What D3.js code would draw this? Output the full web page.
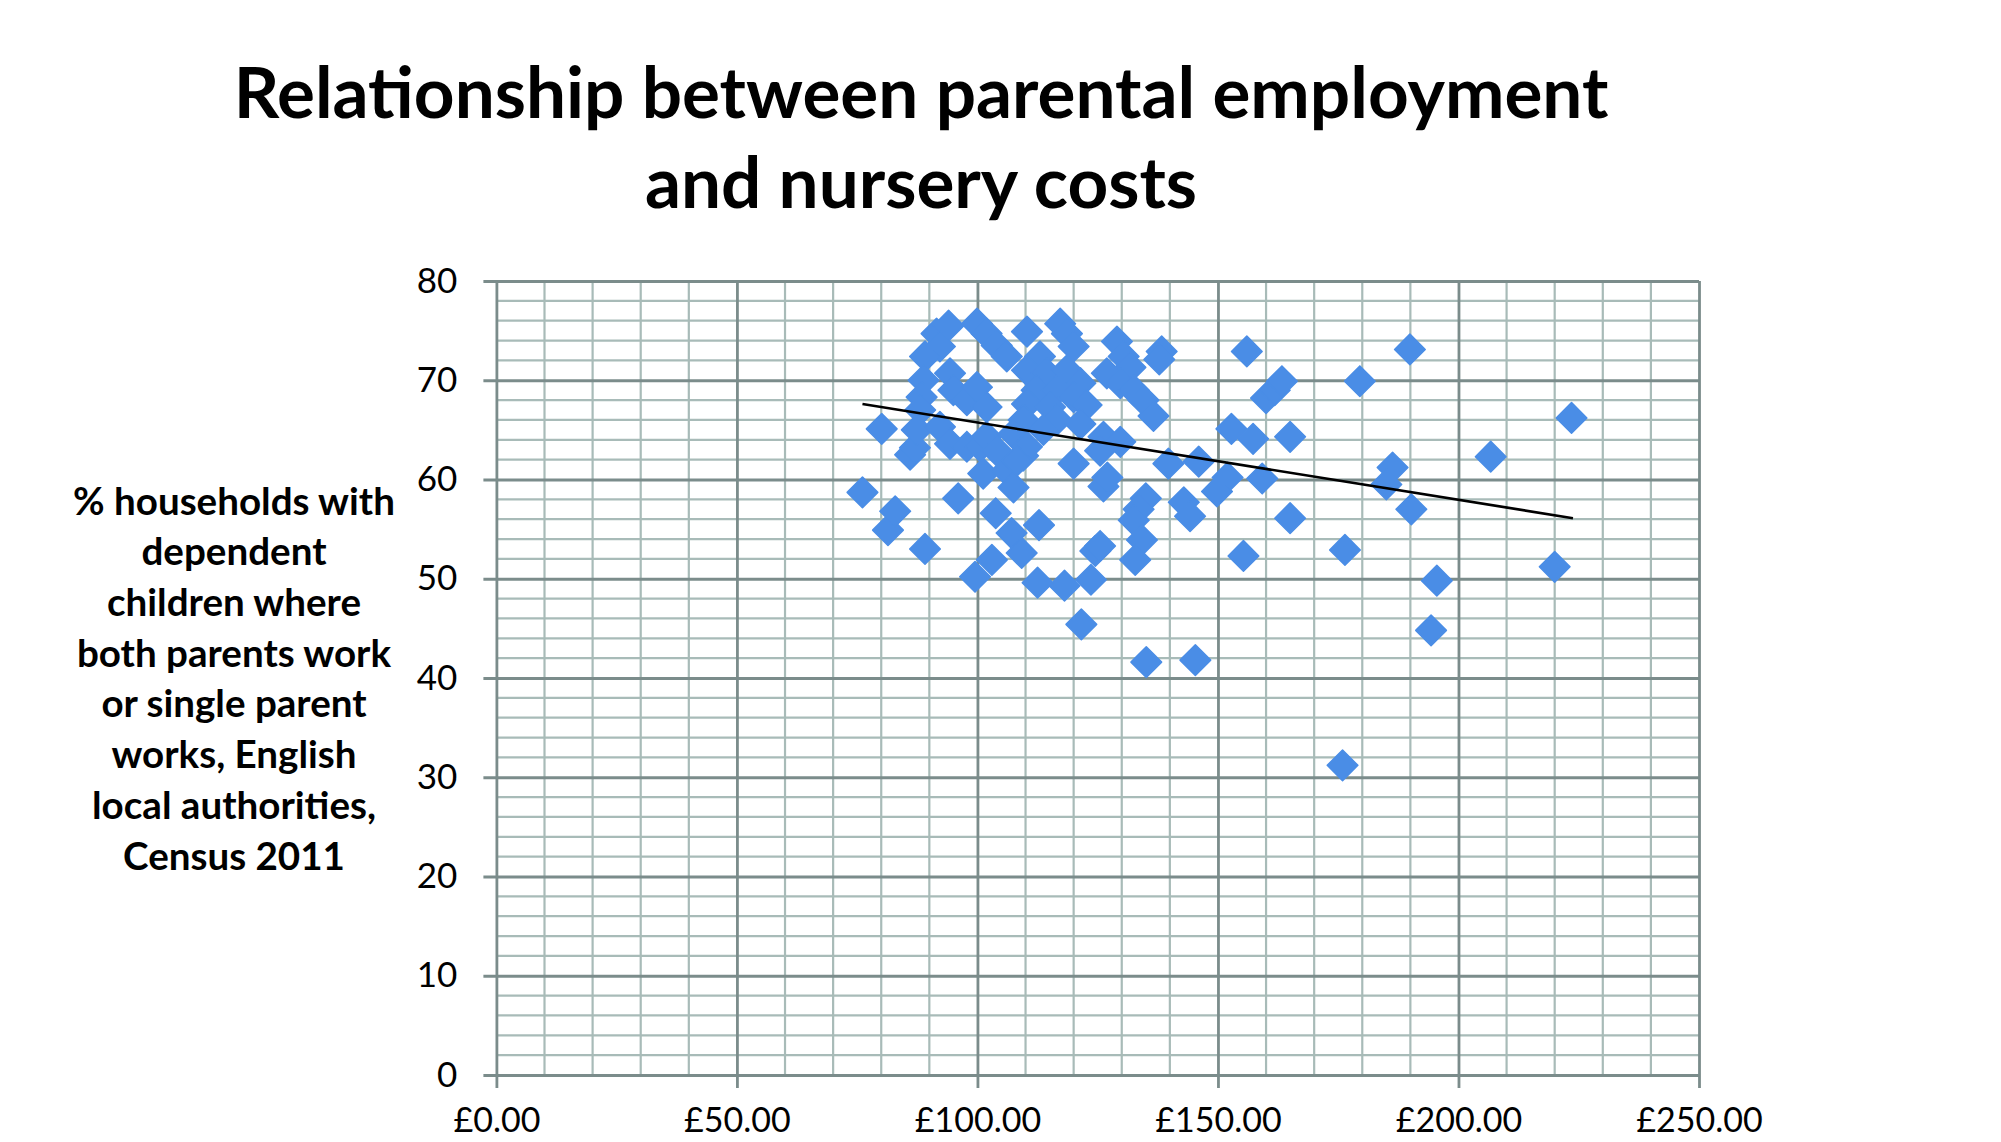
<!DOCTYPE html>
<html>
<head>
<meta charset="utf-8">
<script src="https://cdn.jsdelivr.net/npm/d3@7"></script>
<style>
  html, body { margin: 0; padding: 0; background: #fff; }
  svg { display: block; }
  text { font-family: Lato, "Open Sans", sans-serif; fill: #000; }
</style>
</head>
<body>
<svg id="chart" width="2001" height="1142"></svg>
<script>
// ---- data ----
const titleLines = ["Relationship between parental employment", "and nursery costs"];
const yTitleLines = ["% households with", "dependent", "children where", "both parents work",
  "or single parent", "works, English", "local authorities,", "Census 2011"];
const xTicks = [0, 50, 100, 150, 200, 250];
const xTickLabels = ["£0.00", "£50.00", "£100.00", "£150.00", "£200.00", "£250.00"];
const yTicks = [0, 10, 20, 30, 40, 50, 60, 70, 80];

// weekly nursery cost (£) per local authority
const nurseryCost = [
  156.0, 189.9, 179.5, 160.0, 161.8, 163.3, 152.8, 157.3, 165.0, 186.3,
  185.0, 190.2, 206.7, 223.5, 220.0, 195.5, 194.3, 175.9, 165.0, 155.3,
  176.4, 159.2, 152.0, 149.8, 145.3, 135.1, 121.6, 139.7, 146.0, 142.9,
  144.2, 135.0, 133.5, 132.5, 134.2, 132.8, 138.3, 137.8, 126.2, 127.0,
  124.5, 125.5, 123.6, 118.1, 112.5, 112.8, 107.1, 109.2, 103.0, 99.5,
  103.8, 96.0, 89.1, 81.4, 82.9, 76.1, 80.1, 86.0, 87.0, 109.5,
  // left cluster
  91.5, 94.0, 92.2, 99.9, 101.9, 104.0, 106.1, 89.1, 88.8, 88.4,
  88.1, 94.3, 95.0, 97.8, 99.9, 101.9, 87.4, 92.2, 94.3, 97.8,
  100.6, 101.9, 104.0, 101.2, 106.1, 107.5,
  // middle cluster
  110.3, 117.2, 118.6, 120.0, 113.0, 110.3, 114.4, 118.6, 121.4, 112.3,
  116.5, 120.0, 110.3, 115.1, 122.7, 109.6, 116.5, 121.4, 113.7, 107.5,
  126.2, 129.7, 125.5, 120.0, 110.3, 108.2,
  // right cluster
  129.0, 130.4, 126.9, 131.8, 129.7, 132.5, 134.5, 136.6
];
// % households with dependent children where all parents work
const workingShare = [
  72.9, 73.1, 69.9, 68.2, 69.0, 69.9, 65.1, 64.1, 64.3, 61.2,
  59.5, 57.0, 62.3, 66.2, 51.2, 49.8, 44.8, 31.2, 56.1, 52.3,
  52.9, 60.1, 60.2, 58.8, 41.8, 41.6, 45.4, 61.6, 61.8, 57.7,
  56.3, 58.1, 57.0, 55.9, 53.9, 51.9, 72.9, 72.1, 59.3, 60.2,
  52.8, 53.3, 49.9, 49.3, 49.6, 55.4, 54.6, 52.6, 51.9, 50.2,
  56.6, 58.1, 53.0, 54.9, 56.8, 58.7, 65.1, 62.5, 63.2, 62.4,
  // left cluster
  74.7, 75.5, 73.4, 75.7, 74.7, 73.5, 72.4, 72.4, 70.0, 68.3,
  67.0, 70.7, 69.0, 68.0, 69.3, 67.3, 65.0, 65.3, 63.6, 63.3,
  63.3, 64.3, 62.9, 60.6, 60.9, 59.2,
  // middle cluster
  74.9, 75.7, 74.7, 73.4, 72.4, 71.0, 70.7, 71.0, 69.7, 69.0,
  69.0, 68.3, 67.6, 67.3, 67.5, 66.0, 66.0, 65.6, 65.0, 64.6,
  64.3, 63.8, 62.9, 61.6, 63.3, 61.9,
  // right cluster
  73.9, 72.4, 70.7, 71.3, 69.7, 69.0, 68.0, 66.4
];
// linear trend line end points as drawn in the reference
const trendX = [76.1, 223.8];
const trendY = [67.6, 56.1];

// ---- chart ----
const svg = d3.select("#chart");
const x = d3.scaleLinear().domain([0, 250]).range([496.4, 1699]);
const y = d3.scaleLinear().domain([0, 80]).range([1075, 281]);
const plotW = x(250) - x(0), plotH = y(0) - y(80);
const tickExt = 13;

const minorColor = "#a8bbb8", majorColor = "#7b8c8b";

// minor grid
const g = svg.append("g");
g.selectAll("line.mx").data(d3.range(10, 250, 10).filter(v => v % 50 !== 0)).join("line")
  .attr("x1", d => x(d)).attr("x2", d => x(d)).attr("y1", y(0)).attr("y2", y(80))
  .attr("stroke", minorColor).attr("stroke-width", 2.2);
g.selectAll("line.my").data(d3.range(2, 80, 2).filter(v => v % 10 !== 0)).join("line")
  .attr("x1", x(0)).attr("x2", x(250)).attr("y1", d => y(d)).attr("y2", d => y(d))
  .attr("stroke", minorColor).attr("stroke-width", 2.2);

// major grid + axes
const yAxis = d3.axisLeft(y).tickValues(yTicks).tickSize(-(plotW + tickExt)).tickPadding(26).tickFormat(d3.format("d"));
const yG = svg.append("g").attr("transform", `translate(${x(0) - tickExt},0)`).call(yAxis);
yG.select(".domain").remove();
yG.selectAll("line").attr("stroke", majorColor).attr("stroke-width", 2.8);
yG.selectAll("text").attr("font-size", 35).attr("font-family", "Lato").attr("fill", "#000");

const xAxis = d3.axisBottom(x).tickValues(xTicks).tickSize(-(plotH + tickExt)).tickPadding(20)
  .tickFormat((d, i) => xTickLabels[i]);
const xG = svg.append("g").attr("transform", `translate(0,${y(0) + tickExt})`).call(xAxis);
xG.select(".domain").remove();
xG.selectAll("line").attr("stroke", majorColor).attr("stroke-width", 2.8);
xG.selectAll("text").attr("font-size", 34).attr("font-family", "Lato").attr("fill", "#000");

// points
const pts = nurseryCost.map((c, i) => ({ c, s: workingShare[i] }));
const sym = d3.symbol().type(d3.symbolSquare).size(470);
svg.append("g").selectAll("path").data(pts).join("path")
  .attr("d", sym)
  .attr("transform", d => `translate(${x(d.c)},${y(d.s)}) rotate(45)`)
  .attr("fill", "#4a8de6")
  .attr("stroke", "#4a8de6").attr("stroke-width", 1.5).attr("stroke-linejoin", "round");

// trend line
svg.append("line")
  .attr("x1", x(trendX[0])).attr("y1", y(trendY[0]))
  .attr("x2", x(trendX[1])).attr("y2", y(trendY[1]))
  .attr("stroke", "#000").attr("stroke-width", 2.6);

// title
const titleBaselines = [118, 208];
const tG = svg.append("g");
const tt = tG.selectAll("text").data(titleLines).join("text")
  .attr("x", 921).attr("y", (d, i) => titleBaselines[i])
  .attr("text-anchor", "middle").attr("font-weight", 700)
  .attr("font-size", 100).text(d => d);
const w1 = tt.nodes()[0].getComputedTextLength();
tt.attr("font-size", 100 * 1375 / w1);

// y axis title
const yBase = [515, 565, 616, 667, 717, 768, 819, 870];
const yt = svg.append("g").selectAll("text").data(yTitleLines).join("text")
  .attr("x", 234).attr("y", (d, i) => yBase[i])
  .attr("text-anchor", "middle").attr("font-weight", 700)
  .attr("font-size", 100).text(d => d);
const w2 = yt.nodes()[0].getComputedTextLength();
yt.attr("font-size", 100 * 322 / w2);
</script>
</body>
</html>
